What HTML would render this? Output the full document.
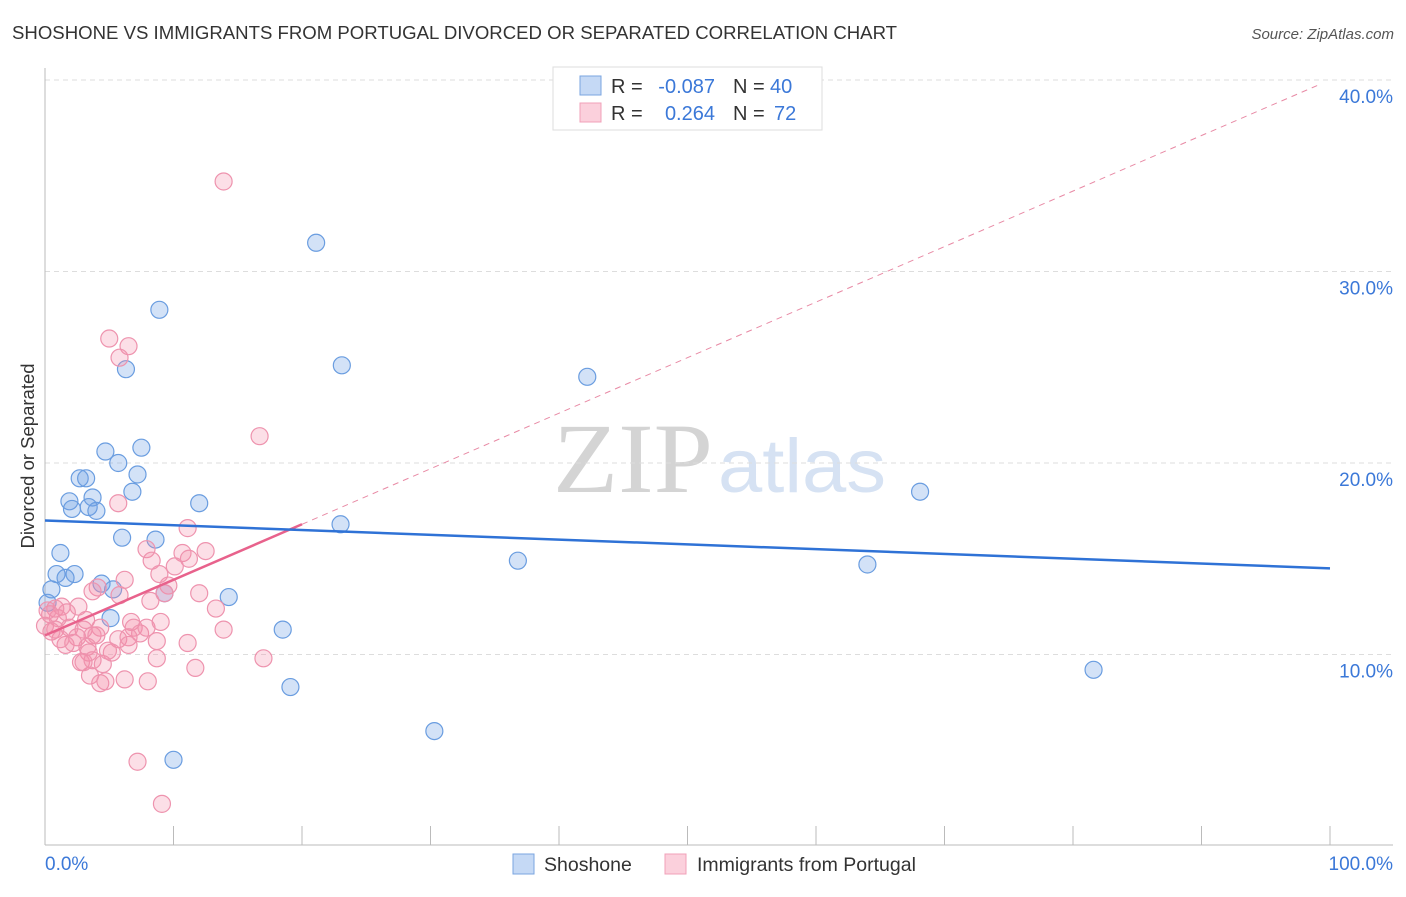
<!DOCTYPE html>
<html><head><meta charset="utf-8"><style>
body{margin:0;background:#fff;font-family:"Liberation Sans",sans-serif;}
svg text{font-family:"Liberation Sans",sans-serif;}
</style></head><body>
<svg id="chart" width="1406" height="892">
<text x="12" y="39" font-size="18.6" fill="#333">SHOSHONE VS IMMIGRANTS FROM PORTUGAL DIVORCED OR SEPARATED CORRELATION CHART</text>
<text x="1394" y="39" font-size="15" fill="#555" font-style="italic" text-anchor="end">Source: ZipAtlas.com</text>
<text x="553" y="492" font-size="100" fill="#d4d4d4" style="font-family:'Liberation Serif',serif" textLength="160" lengthAdjust="spacingAndGlyphs">ZIP</text>
<text x="718" y="492" font-size="76" fill="#d6e2f3" textLength="168" lengthAdjust="spacingAndGlyphs">atlas</text>
<g id="grid"></g>
<g id="axes"></g>
<g id="marks"></g>
<text transform="translate(34,456) rotate(-90)" font-size="18.5" fill="#333" text-anchor="middle">Divorced or Separated</text>
<text x="45" y="870" font-size="19" fill="#3b78d8">0.0%</text>
<text x="1393" y="870" font-size="19" fill="#3b78d8" text-anchor="end">100.0%</text>
<g>
<rect x="553" y="67" width="269" height="63" fill="#fff" stroke="#ddd"/>
<rect x="580" y="76" width="21" height="19" fill="#c5d9f5" stroke="#7aa5e0"/>
<rect x="580" y="103" width="21" height="19" fill="#fbd0dc" stroke="#f0a0b8"/>
<text x="611" y="93" font-size="20" fill="#333">R =</text>
<text x="715" y="93" font-size="20" fill="#3b78d8" text-anchor="end">-0.087</text>
<text x="733" y="93" font-size="20" fill="#333">N =</text>
<text x="770" y="93" font-size="20" fill="#3b78d8">40</text>
<text x="611" y="120" font-size="20" fill="#333">R =</text>
<text x="715" y="120" font-size="20" fill="#3b78d8" text-anchor="end">0.264</text>
<text x="733" y="120" font-size="20" fill="#333">N =</text>
<text x="774" y="120" font-size="20" fill="#3b78d8">72</text>
</g>
<g>
<rect x="513" y="854" width="21" height="20" fill="#c5d9f5" stroke="#7aa5e0"/>
<text x="544" y="871" font-size="19.5" fill="#333">Shoshone</text>
<rect x="665" y="854" width="21" height="20" fill="#fbd0dc" stroke="#f0a0b8"/>
<text x="697" y="871" font-size="19.5" fill="#333">Immigrants from Portugal</text>
</g>
</svg>
<script>
const yTicks=[10,20,30,40];
const yTickLabels=["10.0%","20.0%","30.0%","40.0%"];
const xTicks=[0,10,20,30,40,50,60,70,80,90,100];
const blueX=[21.1,8.9,6.3,23.1,42.2,4.7,7.5,5.7,7.2,2.7,3.2,6.8,1.9,3.7,2.1,3.4,4.0,12.0,68.1,23.0,6.0,8.6,1.2,36.8,64.0,0.9,2.3,1.6,4.4,5.3,0.5,9.3,14.3,0.2,5.1,18.5,81.6,19.1,30.3,10.0];
const blueY=[31.5,28.0,24.9,25.1,24.5,20.6,20.8,20.0,19.4,19.2,19.2,18.5,18.0,18.2,17.6,17.7,17.5,17.9,18.5,16.8,16.1,16.0,15.3,14.9,14.7,14.2,14.2,14.0,13.7,13.4,13.4,13.2,13.0,12.7,11.9,11.3,9.2,8.3,6.0,4.5];
const pinkX=[13.9,5.0,6.5,5.8,16.7,5.7,11.1,7.9,12.5,8.3,10.7,11.2,8.9,10.1,6.2,9.6,4.1,3.7,8.2,12.0,13.3,9.3,1.3,0.8,2.6,0.4,3.2,1.0,0.0,1.9,3.0,0.8,4.3,6.7,6.9,7.4,3.7,4.0,2.5,5.7,6.5,13.9,1.6,3.3,8.7,11.1,6.5,2.2,3.4,2.8,3.7,4.5,8.7,17.0,11.7,3.5,4.3,4.7,6.2,8.0,7.2,9.1,3.0,5.2,1.2,0.2,1.7,4.9,7.9,9.0,0.5,5.8];
const pinkY=[34.7,26.5,26.1,25.5,21.4,17.9,16.6,15.5,15.4,14.9,15.3,15.0,14.2,14.6,13.9,13.6,13.5,13.3,12.8,13.2,12.4,13.2,12.5,12.4,12.5,12.1,11.8,11.9,11.5,11.4,11.3,11.3,11.4,11.7,11.4,11.1,11.0,11.0,10.9,10.8,10.9,11.3,10.5,10.4,10.7,10.6,10.5,10.6,10.1,9.6,9.7,9.5,9.8,9.8,9.3,8.9,8.5,8.6,8.7,8.6,4.4,2.2,9.6,10.1,10.8,12.3,12.2,10.2,11.4,11.7,11.2,13.1];
const blueTrend=[17.0,14.5];
const pinkTrend=[11.0,40.0];
const pinkSolidEnd=20;
const NS="http://www.w3.org/2000/svg";
function xs(v){return 45+v*12.85;}
function ys(v){return 846-v*19.15;}
function mk(tag,attrs,parent){const e=document.createElementNS(NS,tag);for(const k in attrs)e.setAttribute(k,attrs[k]);parent.appendChild(e);return e;}
const grid=document.getElementById('grid'),axes=document.getElementById('axes'),marks=document.getElementById('marks');
yTicks.forEach((t,i)=>{
 const l=mk('line',{x1:45,x2:1393,y1:ys(t),y2:ys(t),stroke:'#ddd','stroke-dasharray':'5,4'},grid);
 
 
 const tx=mk('text',{x:1393,y:ys(t)+23,'font-size':19,fill:'#3b78d8','text-anchor':'end'},axes);
 tx.textContent=yTickLabels[i];
 
 
});
const ax=mk('line',{x1:45,x2:1393,y1:845,y2:845,stroke:'#bbb'},axes);


const ay=mk('line',{x1:45,x2:45,y1:68,y2:845,stroke:'#bbb'},axes);


xTicks.forEach(t=>{
 const l=mk('line',{x1:xs(t),x2:xs(t),y1:826,y2:845,stroke:'#bbb'},axes);
 
 
});
blueX.forEach((x,i)=>{
 const c=mk('circle',{cx:xs(x),cy:ys(blueY[i]),r:8.5,fill:'rgba(110,160,230,0.3)',stroke:'#6a9de0','stroke-width':1.2},marks);
 
 
});
pinkX.forEach((x,i)=>{
 const c=mk('circle',{cx:xs(x),cy:ys(pinkY[i]),r:8.5,fill:'rgba(245,140,170,0.28)',stroke:'#ee93ae','stroke-width':1.2},marks);
 
 
});
const pAt=x=>pinkTrend[0]+(pinkTrend[1]-pinkTrend[0])*x/100;
const pd=mk('line',{x1:xs(pinkSolidEnd),y1:ys(pAt(pinkSolidEnd)),x2:xs(99),y2:ys(pAt(99)),stroke:'#e88aa5','stroke-width':1,'stroke-dasharray':'6,5'},marks);


const ps=mk('line',{x1:xs(0),y1:ys(pAt(0)),x2:xs(pinkSolidEnd),y2:ys(pAt(pinkSolidEnd)),stroke:'#e8628c','stroke-width':2.5},marks);


const bl=mk('line',{x1:xs(0),y1:ys(blueTrend[0]),x2:xs(100),y2:ys(blueTrend[1]),stroke:'#2f72d6','stroke-width':2.5},marks);


</script>
</body></html>
